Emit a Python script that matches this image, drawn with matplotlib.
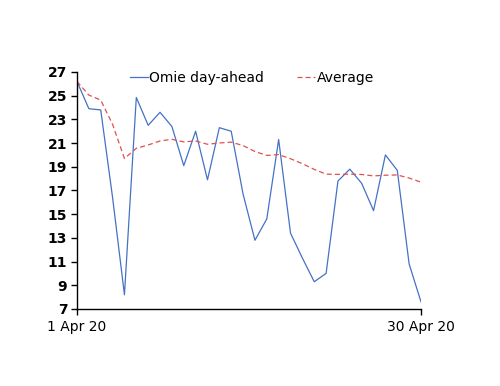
import matplotlib
matplotlib.use("Agg")
import matplotlib.pyplot as plt

days = list(range(1, 31))
omie = [26.2, 23.9, 23.8, 16.4, 8.2, 24.85, 22.5, 23.6, 22.4, 19.1,
        22.0, 17.9, 22.3, 22.0, 16.7, 12.8, 14.6, 21.3, 13.4, 11.3,
        9.3, 10.0, 17.8, 18.8, 17.6, 15.3, 20.0, 18.7, 10.8, 7.6]
average = [26.2, 25.05, 24.63, 22.58, 19.7, 20.56, 20.84, 21.18, 21.32, 21.10,
           21.18, 20.90, 21.01, 21.08, 20.79, 20.29, 19.96, 20.03, 19.68, 19.26,
           18.78, 18.38, 18.36, 18.38, 18.35, 18.23, 18.29, 18.31, 18.05, 17.70]
yticks = list(range(7, 28, 2))
xtick_pos = [1, 30]
xtick_labels = ["1 Apr 20", "30 Apr 20"]

plt.rcParams['font.family'] = ['DejaVu Sans']
fig = plt.figure(figsize=(5, 3.86), dpi=100)
ax = fig.add_axes([0.154, 0.1995, 0.688, 0.614])

ax.plot(days, omie, color='#4472C4', lw=0.9, label='Omie day-ahead')
ax.plot(days, average, color='#E05050', lw=0.9, ls=(0, (4, 2.5)), label='Average')

ax.set_xlim(1, 30)
ax.set_ylim(7, 27)
ax.set_yticks(yticks)
ax.set_yticklabels([str(v) for v in yticks], fontsize=10, fontweight='bold')
ax.set_xticks(xtick_pos)
ax.set_xticklabels(xtick_labels, fontsize=10)
for s in ['top', 'right']:
    ax.spines[s].set_visible(False)
ax.spines['left'].set_linewidth(1.0)
ax.spines['bottom'].set_linewidth(1.0)
ax.tick_params(axis='both', length=4, width=1, direction='out', pad=3)
ax.tick_params(axis='x', pad=4)

ax.legend(loc='upper center', bbox_to_anchor=(0.508, 1.057), ncol=2, frameon=False,
          fontsize=10, handlelength=1.3, handletextpad=0.1, columnspacing=2.4)

fig.savefig('out.png', dpi=100)
